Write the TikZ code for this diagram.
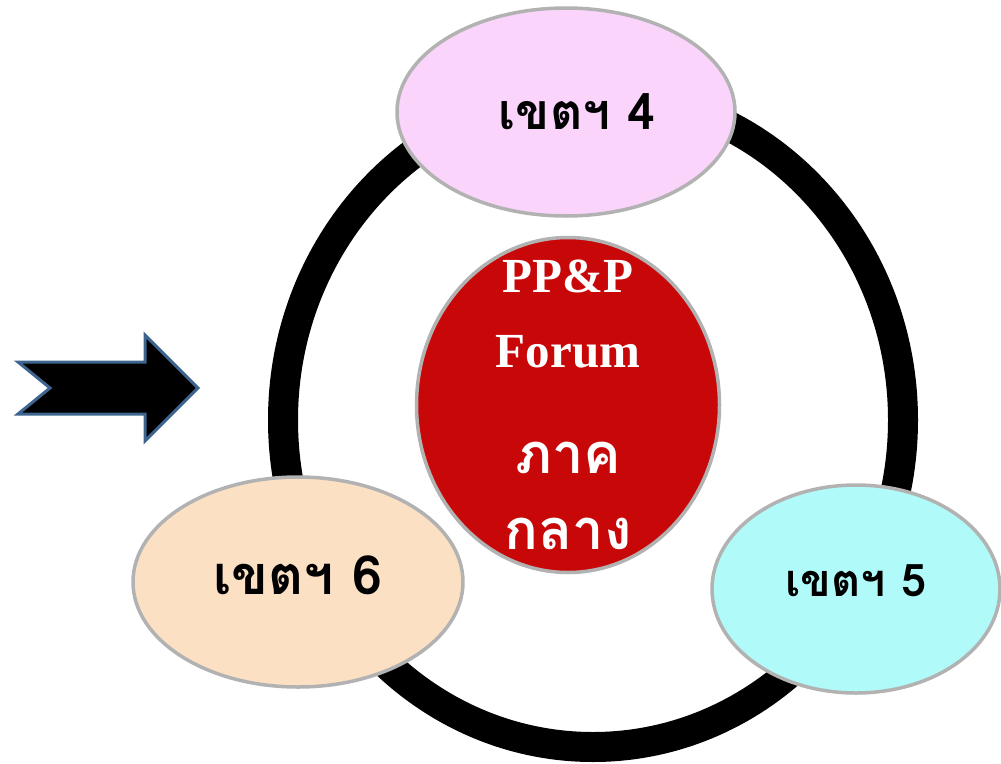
\documentclass[tikz,border=0pt]{standalone}
\usepackage{fontspec}
\setmainfont{Liberation Serif}
\newfontfamily\thaifont[Script=Thai]{Loma}
\usetikzlibrary{shapes.geometric}
\definecolor{pinkfill}{HTML}{FAD4FA}
\definecolor{peachfill}{HTML}{FCE0C4}
\definecolor{cyanfill}{HTML}{B0FAFA}
\definecolor{redfill}{HTML}{C80808}
\definecolor{arrowedge}{HTML}{3E6590}
\begin{document}
\begin{tikzpicture}[x=1pt,y=-1pt,
  bubble/.style={ellipse, draw=gray!60, line width=3.5pt, inner sep=0pt},
  zonetxt/.style={font=\thaifont\bfseries\fontsize{50}{50}\selectfont, text=black, anchor=base, inner sep=0pt},
  centertxt/.style={font=\bfseries\fontsize{49}{49}\selectfont, text=white, anchor=base, inner sep=0pt},
  centerthai/.style={font=\thaifont\bfseries\fontsize{56}{56}\selectfont, text=white, anchor=base, inner sep=0pt}]
\useasboundingbox (0,0) rectangle (1001,763);
% ring
\draw[line width=30pt] (593,420) ellipse [x radius=310, y radius=327];
% arrow
\filldraw[fill=black, draw=arrowedge, line width=3pt, line join=miter]
  (18,362) -- (145,362) -- (145,335) -- (198,388) -- (145,441) -- (145,414) -- (18,414) -- (50,388) -- cycle;
% bubbles
\node[bubble, fill=pinkfill, minimum width=338pt, minimum height=208pt] (z4) at (566,112) {};
\node[bubble, fill=redfill, minimum width=303pt, minimum height=335pt] (hub) at (568,405) {};
\node[bubble, fill=peachfill, minimum width=330pt, minimum height=210pt] (z6) at (298,582) {};
\node[bubble, fill=cyanfill, minimum width=288pt, minimum height=208pt] (z5) at (856,589) {};
% texts
\node[zonetxt] (t4) at (577,129) {เขตฯ 4};
\node[zonetxt, font=\thaifont\bfseries\fontsize{54}{54}\selectfont] (t6) at (298,594) {เขตฯ 6};
\node[zonetxt, font=\thaifont\bfseries\fontsize{45}{45}\selectfont] (t5) at (856,596) {เขตฯ 5};
\node[centertxt] (c1) at (568,292) {PP\&P};
\node[centertxt] (c2) at (568,367) {Forum};
\node[centerthai] (c3) at (568,473) {ภาค};
\node[centerthai] (c4) at (568,549) {กลาง};
\end{tikzpicture}
\end{document}
